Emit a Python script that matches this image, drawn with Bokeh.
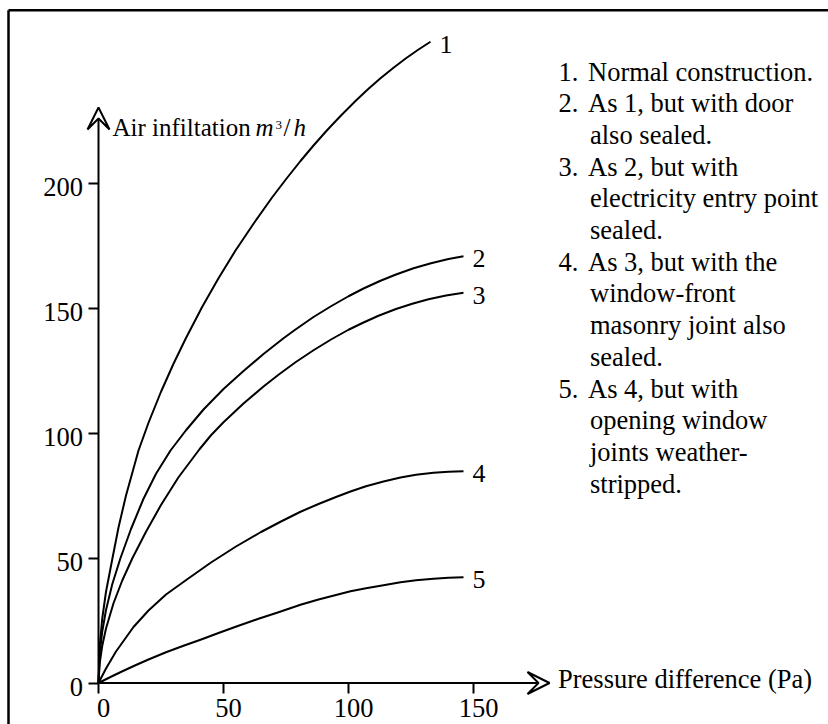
from bokeh.plotting import figure
from bokeh.models import Range1d, LinearAxis, FixedTicker, Arrow, VeeHead
from bokeh.embed import file_html
from bokeh.resources import INLINE
from bokeh.core.properties import value

# ---------------- data ----------------
x_ticks = [0, 50, 100, 150]
y_ticks = [0, 50, 100, 150, 200]
x_tick_labels = ["0", "50", "100", "150"]
y_tick_labels = ["0", "50", "100", "150", "200"]

c1_x = [0, 0.5, 1.5, 3, 5.6, 8, 11, 16, 20, 25, 30, 35, 41.5, 48, 54.8, 62, 69.5, 75,
        80.8, 86, 91.5, 97, 103, 108, 112.8, 118, 123, 128, 132.8]
c1_y = [0, 14.9, 25.8, 36.5, 50, 62.2, 75, 93, 104.1, 116.5, 127.7, 138, 150.5, 161.9, 173, 183.7, 194.3, 201.5,
        208.8, 215, 221.2, 227, 233, 237.7, 241.9, 246.1, 249.9, 253.4, 256.5]

c2_x = [0, 0.5, 1.5, 3, 5.5, 8.8, 13, 18, 23, 28.8, 35, 42, 50, 58, 66, 74, 78.8,
        86, 93, 100, 106, 112.8, 119, 126, 133, 140, 146]
c2_y = [0, 11.9, 20.6, 29.2, 39.5, 50, 61.6, 73.7, 83.7, 93, 101.1, 109.4, 117.6, 124.8, 131.6, 137.9, 141.4,
        146.4, 150.7, 154.7, 157.8, 160.9, 163.4, 165.9, 167.9, 169.6, 170.7]

c3_x = [0, 0.5, 1.5, 3, 6, 9.5, 13.6, 19, 25, 32, 40.4, 45, 50, 58, 66, 72, 78.8,
        86, 93, 100, 106, 112, 119, 125.5, 132, 139, 146]
c3_y = [0, 8.1, 14.9, 21.8, 31.9, 41, 50, 60.5, 71.2, 82.3, 93.5, 99.1, 104.3, 111.8, 118.6, 123.3, 128.3,
        133.1, 137.4, 141.3, 144.2, 146.9, 149.6, 151.7, 153.5, 155, 156.1]

c4_x = [0, 3, 7, 14, 20, 27, 35.5, 45, 55, 65, 73, 80.8, 88, 95, 100.8, 107, 114,
        120.8, 127, 134, 140, 146]
c4_y = [0, 5.8, 12.6, 22.4, 29, 35.4, 41.5, 48.2, 54.6, 60.4, 64.6, 68.5, 71.6, 74.4, 76.6, 78.7, 80.6,
        82.2, 83.3, 84.1, 84.5, 84.7]

c5_x = [0, 5, 10, 15, 20, 27, 34, 40.8, 48, 56, 64, 72, 80.8, 88, 95, 100.8, 107,
        114, 120.8, 127, 134, 140, 146]
c5_y = [0, 2.5, 4.9, 7.2, 9.4, 12.3, 14.9, 17.3, 20, 22.9, 25.7, 28.3, 31.3, 33.4, 35.2, 36.7, 37.9,
        39.1, 40.3, 41.1, 41.7, 42.1, 42.3]

curve_names = ["1", "2", "3", "4", "5"]

legend_lines = [
    ("1.", "Normal construction."),
    ("2.", "As 1, but with door"),
    ("", "also sealed."),
    ("3.", "As 2, but with"),
    ("", "electricity entry point"),
    ("", "sealed."),
    ("4.", "As 3, but with the"),
    ("", "window-front"),
    ("", "masonry joint also"),
    ("", "sealed."),
    ("5.", " As 4, but with"),
    ("", "opening window"),
    ("", "joints weather-"),
    ("", "stripped."),
]

x_label = "Pressure difference (Pa)"
y_label_parts = ["Air infiltation", "m", "3", "/", "h"]

# ---------------- layout ----------------
W, H = 828, 724
PX = 2.5                 # pixels per data unit
OX, OY = 98, 682.5       # origin in canvas pixels (from top-left)
FONT = "Liberation Serif, Times New Roman, serif"
FS = "26px"
TICK_FS = "26.5px"


def dx(px):
    """canvas x pixel -> data x"""
    return (px - OX) / PX


def dy(py):
    """canvas y pixel (from top) -> data y"""
    return (OY - py) / PX


p = figure(width=W, height=H,
           x_range=Range1d(dx(0), dx(W)), y_range=Range1d(dy(H), dy(0)),
           x_axis_type=None, y_axis_type=None,
           toolbar_location=None, output_backend="svg", min_border=0)
p.outline_line_color = None
p.background_fill_color = "white"
p.border_fill_color = "white"

# outer frame (left and top edges visible)
p.segment(x0=[dx(8), dx(8)], y0=[dy(9.8), dy(9.8)], x1=[dx(W + 5), dx(8)], y1=[dy(9.8), dy(H + 5)],
          line_color="black", line_width=2.5)

# axes: ticks from Bokeh axes, labels placed as text next to them
axis_style = dict(axis_line_color=None, major_tick_in=0, major_tick_out=10,
                  minor_tick_in=0, minor_tick_out=0,
                  major_tick_line_width=2, major_tick_line_color="black",
                  major_label_text_font=FONT, major_label_text_font_size=TICK_FS,
                  major_label_text_color="black")

yax = LinearAxis(ticker=FixedTicker(ticks=y_ticks), fixed_location=0,
                 major_label_overrides={t: "" for t in y_ticks}, **axis_style)
xax = LinearAxis(ticker=FixedTicker(ticks=x_ticks), fixed_location=0,
                 major_label_overrides={t: "" for t in x_ticks}, **axis_style)
p.add_layout(yax, "left")
p.add_layout(xax, "below")

p.text(x=[0] * len(y_ticks), y=y_ticks, text=y_tick_labels, x_offset=-15.5, y_offset=4,
       text_align="right", text_baseline="middle", text_font=value(FONT),
       text_font_size=TICK_FS, text_color="black")
p.text(x=x_ticks, y=[0] * len(x_ticks), text=x_tick_labels, x_offset=5, y_offset=24.5,
       text_align="center", text_baseline="middle", text_font=value(FONT),
       text_font_size=TICK_FS, text_color="black")

# axis lines with open arrow heads
head = dict(size=22, fill_color="white", line_color="black", line_width=2)
p.add_layout(Arrow(end=VeeHead(**head), x_start=0, y_start=0, x_end=0, y_end=dy(107),
                   line_width=2, line_color="black"))
p.add_layout(Arrow(end=VeeHead(**head), x_start=0, y_start=0, x_end=dx(549), y_end=0,
                   line_width=2, line_color="black"))

# curves
curves = [(c1_x, c1_y), (c2_x, c2_y), (c3_x, c3_y), (c4_x, c4_y), (c5_x, c5_y)]
for cx, cy in curves:
    p.line(cx, cy, line_color="black", line_width=2, line_join="round")

p.text(x=[c[0][-1] for c in curves], y=[c[1][-1] for c in curves],
       text=curve_names, x_offset=9, y_offset=2.5,
       text_align="left", text_baseline="middle",
       text_font=value(FONT), text_font_size=FS, text_color="black")


def put(txt, px, base, size=26.0, style="normal"):
    # place text so that its alphabetic baseline sits at canvas y = base
    p.text(x=[dx(px)], y=[dy(base - 0.338 * size)], text=[txt], text_align="left",
           text_baseline="middle", text_font=value(FONT),
           text_font_size=f"{size}px", text_font_style=style, text_color="black")


# axis titles
put(x_label, 557.5, 687.5, size=26.5)
ypos = [(112, 135, "normal", 25), (255, 135, "italic", 25),
        (275, 128.5, "normal", 13), (283, 135, "normal", 25),
        (293, 135, "italic", 25)]
for part, (px_, py_, style, size) in zip(y_label_parts, ypos):
    put(part, px_, py_, size=size, style=style)

# legend text block
LINE = 31.7
for i, (num, body) in enumerate(legend_lines):
    base = 80 + LINE * i
    if num:
        put(num, 558, base, size=26.5)
    put(body, 587.5 if num else 589.5, base, size=26.5)

open("out.html", "w").write(file_html(p, INLINE))
